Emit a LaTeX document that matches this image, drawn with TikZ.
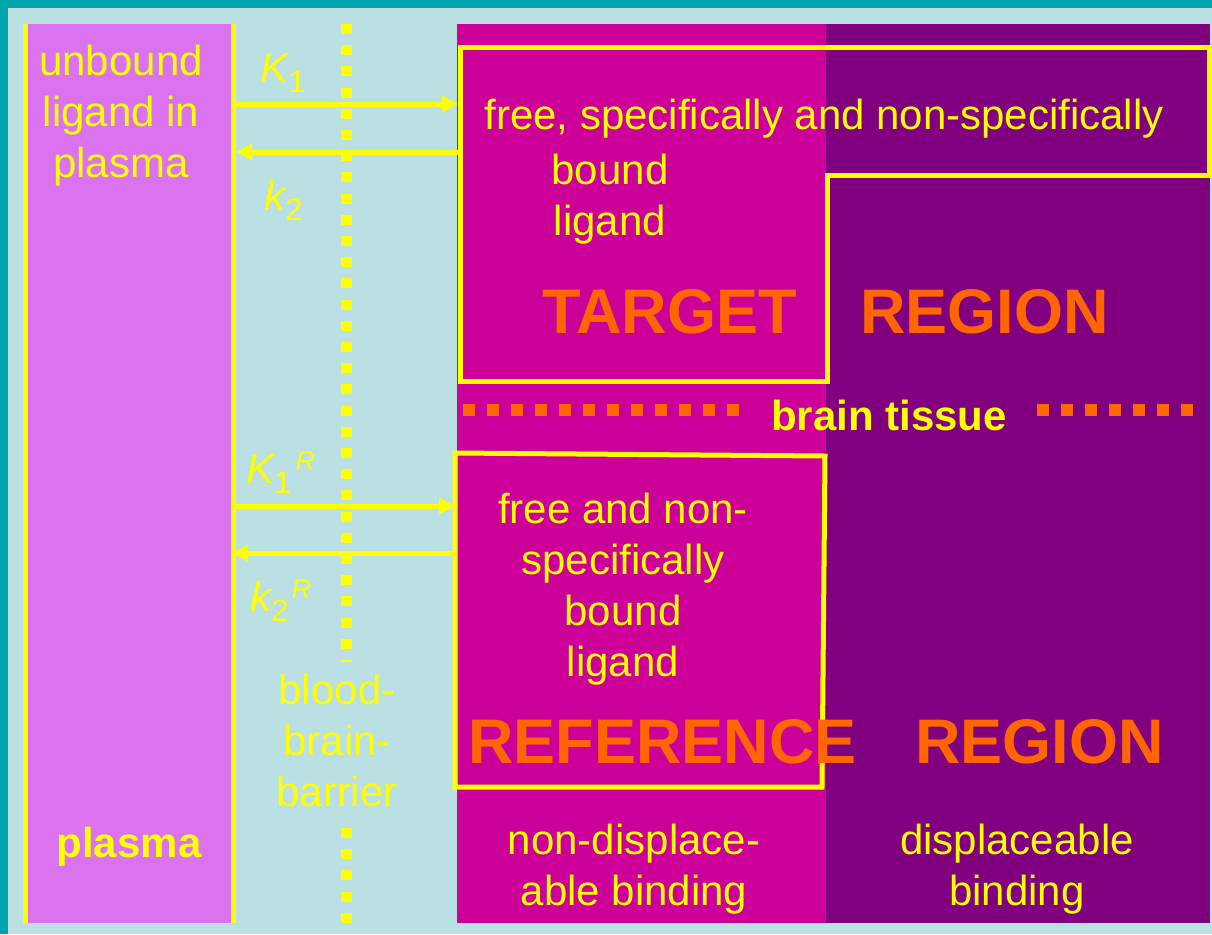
\documentclass[tikz,border=0pt]{standalone}
\usepackage{fontspec}
\setmainfont{Liberation Sans}
\usetikzlibrary{arrows.meta}

\definecolor{frameteal}{HTML}{00A3AD}
\definecolor{bgblue}{HTML}{BAE0E3}
\definecolor{plasmapink}{HTML}{DB72F0}
\definecolor{targetmag}{HTML}{CC0099}
\definecolor{tissuepurple}{HTML}{800080}
\definecolor{lblyellow}{HTML}{FFFF00}
\definecolor{regionorange}{HTML}{FF6600}

\newcommand{\ratesub}[1]{\raisebox{-5pt}{\upshape\fontsize{15.5pt}{15.5pt}\selectfont #1}}
\newcommand{\ratesup}[1]{\raisebox{6.5pt}{\itshape\fontsize{13.5pt}{13.5pt}\selectfont #1}}

\begin{document}
\begin{tikzpicture}[
    x=0.5pt, y=-0.5pt,
    txt/.style    = {text=lblyellow, inner sep=0pt, align=center, anchor=base,
                     font=\fontsize{21pt}{25.5pt}\selectfont},
    plabel/.style = {txt, font=\fontsize{21pt}{25.5pt}\selectfont\bfseries},
    big/.style    = {inner sep=0pt, anchor=base west, text=regionorange,
                     font=\fontsize{31.5pt}{36pt}\selectfont\bfseries},
    rate/.style   = {txt, anchor=base west, font=\fontsize{21pt}{25.5pt}\selectfont\itshape},
    wall/.style   = {draw=lblyellow, line width=2.5pt},
    flux/.style   = {draw=lblyellow, line width=2.5pt,
                     -{Triangle[length=8pt,width=8pt]}},
    bbb/.style    = {draw=lblyellow, line width=5.5pt, dash pattern=on 5pt off 5.6pt},
    tissue/.style = {draw=regionorange, line width=6pt, dash pattern=on 6pt off 6pt},
]
\useasboundingbox (0,0) rectangle (1212,934);

%============================ BACKGROUND ============================
\fill[frameteal] (0,0) rectangle (1212,934);
\fill[bgblue] (8,8) rectangle (1212,934);
\fill[plasmapink] (24,24) rectangle (234,923);
\fill[targetmag] (457,24) rectangle (826,923);
\fill[tissuepurple] (826,24) rectangle (1210,923);

%============================ PLASMA ================================
\draw[wall] (25.5,24) -- (25.5,923);
\draw[wall] (233.5,24) -- (233.5,923);
% multi-line nodes: base is the last line
\node[txt] (unb) at (121,177) {unbound\\ligand in\\plasma};
\node[plabel] (plas) at (129,857) {plasma};

%===================== BLOOD-BRAIN BARRIER ==========================
\draw[bbb] (346,24) -- (346,662);
\draw[bbb] (346,828) -- (346,923);
\node[txt] (bbbtxt) at (337,806) {blood-\\brain-\\barrier};

%============================ TARGET ================================
\draw[wall] (460,47) -- (1209,47) -- (1209,175) -- (827,175)
      -- (827,381) -- (460,381) -- cycle;
\node[txt] (tgtfree) at (824,129) {free, specifically and non-specifically};
\node[txt] (tgtbound) at (610,235) {bound\\ligand};
\node[big] (tgtname) at (542,333) {TARGET};
\node[big] (tgtreg) at (860,333) {REGION};

%========================== BRAIN TISSUE ============================
\draw[tissue] (463,410) -- (740,410);
\draw[tissue] (1037,410) -- (1194,410);
\node[plabel] (brain) at (889,430) {brain tissue};

%=========================== REFERENCE ==============================
\draw[wall] (455,453) -- (825,456) -- (822,787) -- (455,787) -- cycle;
\node[txt] (reffree) at (623,676) {free and non-\\specifically\\bound\\ligand};
\node[big] (refname) at (468,763) {REFERENCE};
\node[big] (refreg) at (915,763) {REGION};

\node[txt] (nondisp) at (634,905) {non-displace-\\able binding};
\node[txt] (disp) at (1017,905) {displaceable\\binding};

%========================= RATE CONSTANTS ===========================
\coordinate (pK1)  at (236,104);  \coordinate (tK1)  at (458,104);
\coordinate (pk2)  at (236,152);  \coordinate (tk2)  at (458,152);
\coordinate (pK1R) at (232,506);  \coordinate (rK1R) at (455,506);
\coordinate (pk2R) at (232,553);  \coordinate (rk2R) at (455,553);

\draw[flux] (pK1) -- (tK1);
\draw[flux] (tk2) -- (pk2);
\draw[flux] (pK1R) -- (rK1R);
\draw[flux] (rk2R) -- (pk2R);

\node[rate] (lK1)  at (260,82)  {K\ratesub{1}};
\node[rate] (lk2)  at (264,210) {k\ratesub{2}};
\node[rate] (lK1R) at (246,483) {K\ratesub{1}\kern2pt\ratesup{R}};
\node[rate] (lk2R) at (250,611) {k\ratesub{2}\kern1.5pt\ratesup{R}};

\end{tikzpicture}
\end{document}
